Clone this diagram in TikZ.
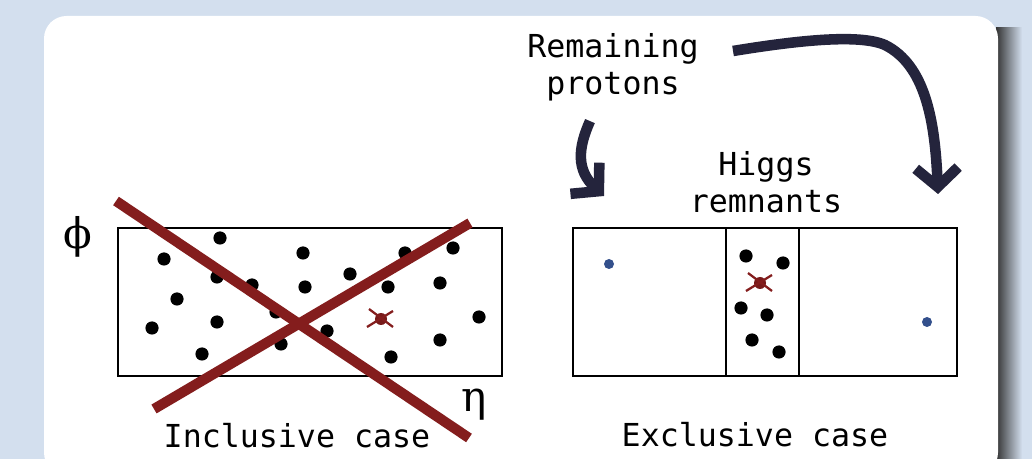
\documentclass[tikz,border=0pt]{standalone}
\usepackage{fontspec}
\setmonofont{DejaVu Sans Mono}
\newfontfamily\greekfont{DejaVu Serif}
\usetikzlibrary{positioning, arrows.meta, calc}
\definecolor{bgblue}{HTML}{D3DFEE}
\definecolor{crossred}{HTML}{841D1D}
\definecolor{inknavy}{HTML}{24243C}
\definecolor{protonblue}{HTML}{33508C}

\begin{document}
\begin{tikzpicture}[x=0.02cm, y=-0.02cm,
  caption/.style={font=\ttfamily\fontsize{18}{21}\selectfont, align=center,
    inner sep=0pt},
  axislabel/.style={font=\greekfont\fontsize{24}{28}\selectfont, inner sep=0pt},
  detector/.style={draw, line width=1.1pt},
  veto/.style={crossred, line width=5.8pt},
  ink/.style={inknavy, line width=6pt, line cap=butt, line join=round,
    -{Straight Barb[length=0.38cm, width=0.85cm, line join=miter]}},
  hit/.pic={
    \fill[crossred!90!black] (0,0) circle (6);
    \draw[crossred, line width=1.3pt] (-12,-10) -- (12,8) (-14,8) -- (12,-8);
  },
]
  \useasboundingbox (0,0) rectangle (1032,459);
  \fill[bgblue] (0,0) rectangle (1032,459);

  % panel with its shadow
  \shade[left color=black!80, right color=bgblue] (996,28) rectangle (1022,470);
  \fill[white, rounded corners=0.45cm] (44,16) rectangle (998,475);

  % Inclusive case
  \draw[detector] (118,228) rectangle (502,376);
  \node[axislabel] (phi) at (78,237) {ϕ};
  \node[axislabel] (eta) at (474,405) {η};
  \foreach \px/\py in {220/238, 164/259, 303/253, 405/253, 453/248, 217/277,
      252/285, 350/274, 305/287, 388/287, 440/283, 177/299, 152/328, 217/322,
      276/312, 479/317, 440/340, 202/354, 391/357, 281/344, 327/331}
    \fill (\px,\py) circle (6.6);
  \pic at (381,319) {hit};
  \draw[veto] (116,201) -- (469,438);
  \draw[veto] (154,409) -- (470,223);
  \node[caption] (incl) at (297,436) {Inclusive case};

  % Exclusive case
  \draw[detector] (573,228) rectangle (957,376);
  \draw[detector] (726,228) -- (726,376);
  \draw[detector] (799,228) -- (799,376);
  \fill[protonblue] (609,264) circle (5);
  \fill[protonblue] (927,322) circle (5);
  \foreach \px/\py in {746/256, 783/263, 741/308, 767/315, 752/340, 779/352}
    \fill (\px,\py) circle (6.6);
  \pic at (760,283) {hit};
  \node[caption] (excl) at (755,435) {Exclusive case};

  % labels and arrows
  \node[caption] (remain) at (613,67) {Remaining\\protons};
  \node[caption] (higgs) at (766,182) {Higgs\\remnants};
  \coordinate (lefttip) at (604,196);
  \coordinate (righttip) at (938,194);
  \draw[ink] ($(remain.south)+(-23,20)$) .. controls (578,148) and (576,170) .. (lefttip);
  \draw[ink] ($(remain.east)+(34,-16)$) .. controls (800,40) and (860,34) .. (885,45)
    .. controls (925,65) and (935,120) .. (righttip);
\end{tikzpicture}
\end{document}
